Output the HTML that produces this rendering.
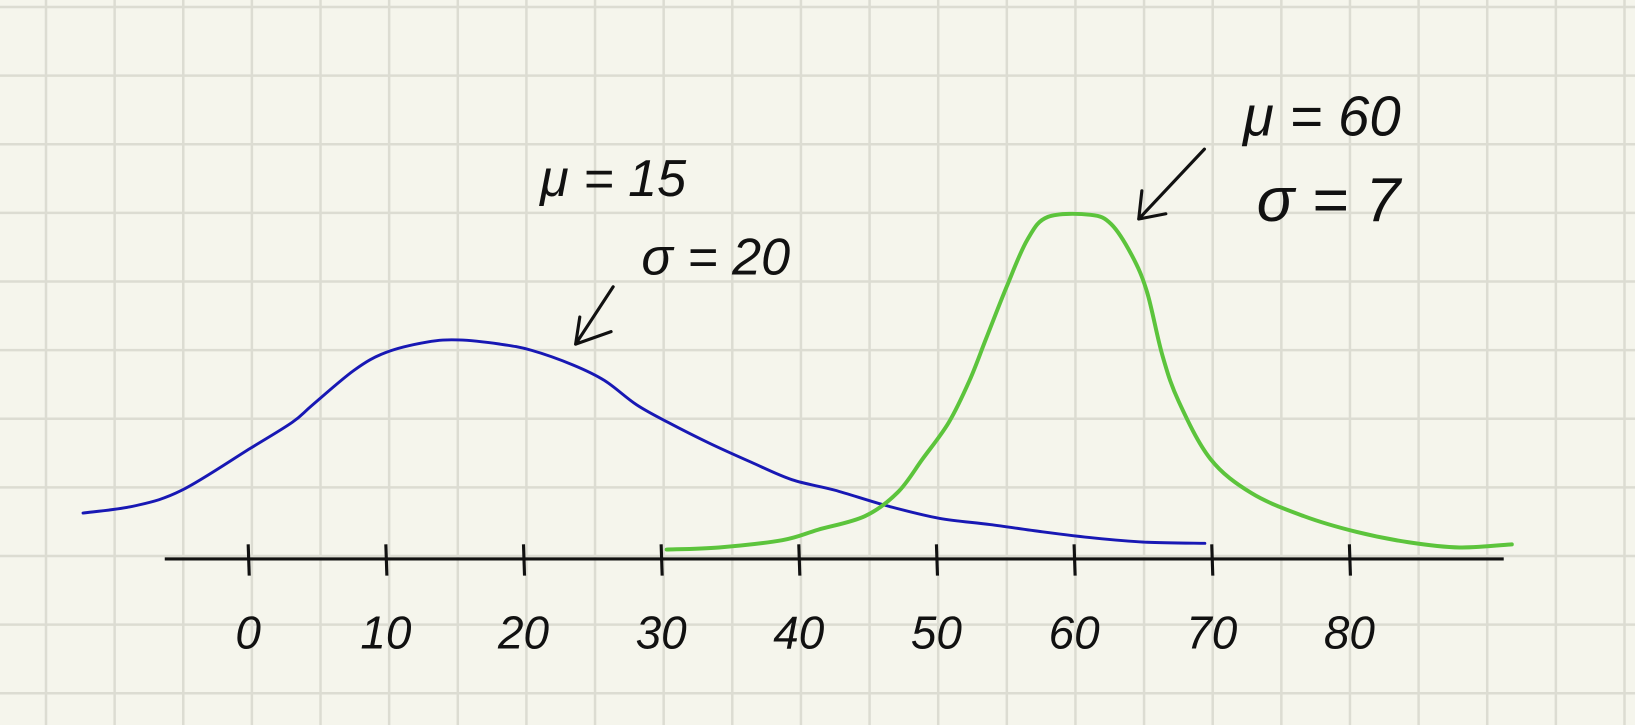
<!DOCTYPE html>
<html><head><meta charset="utf-8"><style>
html,body{margin:0;padding:0;background:#f5f5ec;}
svg{display:block}
text{font-family:"Liberation Sans",sans-serif;fill:#111;}
</style></head><body>
<svg id="chart" width="1635" height="725" viewBox="0 0 1635 725" xmlns="http://www.w3.org/2000/svg">
<rect width="1635" height="725" fill="#f5f5ec"/>
<g id="grid"></g>
<g transform="scale(1.0428)">
<g id="axis"></g>
<g id="series"></g>
<g>
  <text x="518" y="188" font-size="50" font-style="italic">μ = 15</text>
  <text x="615" y="263" font-size="50" font-style="italic">σ = 20</text>
  <path d="M588,275 L552,330 M552,330 L556,304 M552,330 L586,318" stroke="#111" stroke-width="3" fill="none" stroke-linecap="round"/>
  <text x="1192" y="130" font-size="54" font-style="italic">μ = 60</text>
  <text x="1205" y="212" font-size="60" font-style="italic">σ = 7</text>
  <path d="M1155,143 L1092,210 M1092,210 L1095,183 M1092,210 L1118,205" stroke="#111" stroke-width="3" fill="none" stroke-linecap="round"/>
</g>
</g>
</svg>
<script>
const tickValues=[0,10,20,30,40,50,60,70,80];
const tickLabels=["0","10","20","30","40","50","60","70","80"];
const blueX=[-12,-8.2,-4.8,0.15,3.2,4.7,7.7,10,13,15.3,18.3,20.6,23.6,25.9,28.2,30.5,33.5,36.5,39.5,42.6,46.4,50.2,53.9,57.7,61.5,65.3,69.5];
const blueY=[22,25.5,33,53,65.5,74,90.5,99,104,105,103,100,93,85.5,74,65.5,55.5,46.5,38,33,25.5,19.5,16.5,13,10,8,7.5];
const greenX=[30.4,34.2,38.8,41.4,44.8,47.2,49.0,50.9,52.4,53.6,55.1,56.6,58.1,61.2,62.7,64.2,65.3,66.4,67.6,69.9,72.9,76.7,80.5,84.3,88.0,91.8];
const greenY=[4.5,5.5,9,14,20.5,32,48,65.5,85.5,105.5,130.5,153,164,165,160.5,145.5,128,98,75.5,48,31.5,20.5,13,8,5.5,7];
const NS="http://www.w3.org/2000/svg";
const xS=v=>238+13.2*v;
const yS=v=>536-2*v;
function mk(t,a,p){const e=document.createElementNS(NS,t);for(const k in a)e.setAttribute(k,a[k]);p.appendChild(e);return e;}
const grid=document.getElementById('grid');
for(let i=0;i<25;i++){const x=46+68.63*i;
 const l=mk('line',{x1:x,y1:0,x2:x,y2:725,stroke:'#dcdcd2','stroke-width':2.5},grid);
 
 }
for(let i=0;i<11;i++){const y=7+68.63*i;
 const l=mk('line',{x1:0,y1:y,x2:1635,y2:y,stroke:'#dcdcd2','stroke-width':2.5},grid);
 
 }
const ax=document.getElementById('axis');
const al=mk('line',{x1:158,y1:536,x2:1442,y2:536,stroke:'#111','stroke-width':3},ax);


tickValues.forEach((v,i)=>{const x=xS(v);
 const t=mk('line',{x1:x,y1:522,x2:x+1,y2:552,stroke:'#111','stroke-width':3},ax);
 
 
 const tx=mk('text',{x:x,y:622,'font-size':44,'font-style':'italic','text-anchor':'middle'},ax);
 tx.textContent=tickLabels[i];
 
 });
function smooth(xs,ys){const p=xs.map((x,i)=>[xS(x),yS(ys[i])]);let d='M'+p[0][0]+','+p[0][1];
 for(let i=0;i<p.length-1;i++){const p0=p[i-1]||p[i],p1=p[i],p2=p[i+1],p3=p[i+2]||p2;
 d+=' C'+(p1[0]+(p2[0]-p0[0])/6)+','+(p1[1]+(p2[1]-p0[1])/6)+' '+(p2[0]-(p3[0]-p1[0])/6)+','+(p2[1]-(p3[1]-p1[1])/6)+' '+p2[0]+','+p2[1];}
 return d;}
const s=document.getElementById('series');
const b=mk('path',{d:smooth(blueX,blueY),fill:'none',stroke:'#1818b4','stroke-width':2.8,'stroke-linecap':'round'},s);


const g=mk('path',{d:smooth(greenX,greenY),fill:'none',stroke:'#5cc43c','stroke-width':3.8,'stroke-linecap':'round'},s);


</script>
</body></html>
